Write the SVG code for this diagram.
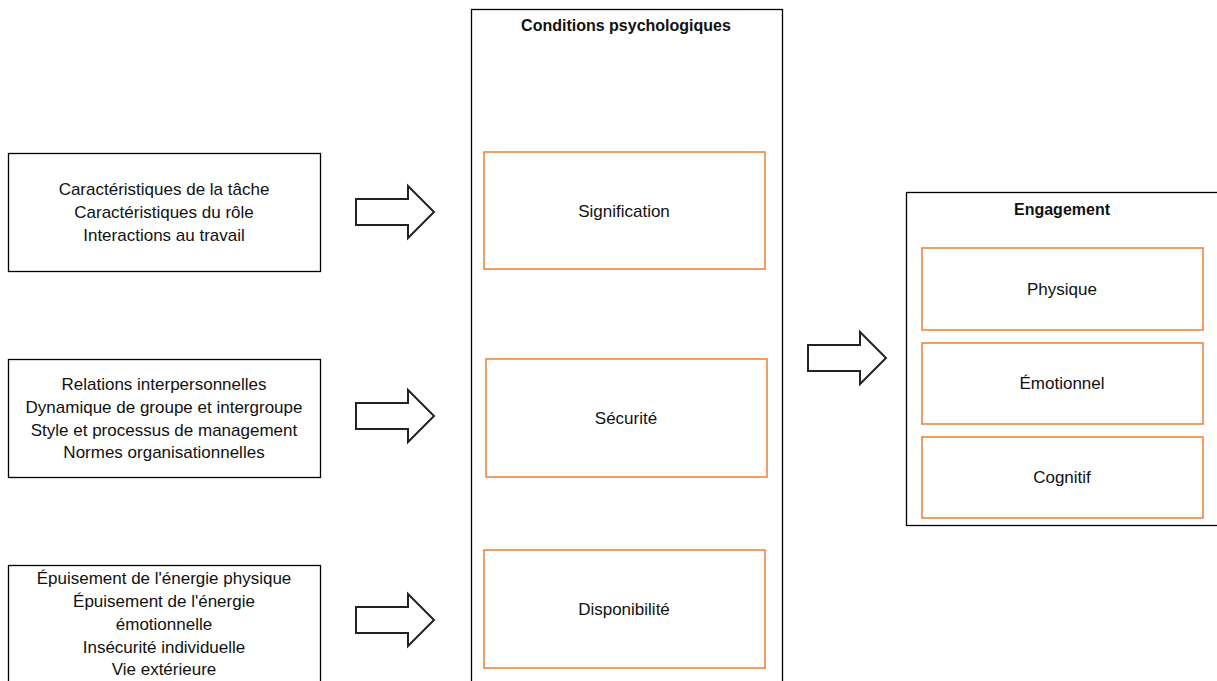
<svg xmlns="http://www.w3.org/2000/svg" width="1217" height="681" viewBox="0 0 1217 681">
<style>
.box{fill:#fff;stroke:#000;stroke-width:1.3}
.ob{fill:#fff;stroke:#ED7D31;stroke-width:1.5}
.t{font-family:"Liberation Sans",Arial,sans-serif;font-size:17px;fill:#111;text-anchor:middle}
.b{font-weight:bold;font-size:16px}
.arr{fill:#fff;stroke:#222;stroke-width:2;stroke-linejoin:miter}
</style>
<defs>
<path id="arrow" d="M0,-13 L52,-13 L52,-26 L78,0 L52,26 L52,13 L0,13 Z"/>
</defs>
<rect width="1217" height="681" fill="#fff"/>
<g id="antecedents1">
<rect class="box" x="8.5" y="153.5" width="312" height="118"/>
<text class="t" x="164" y="195">Caractéristiques de la tâche</text>
<text class="t" x="164" y="218">Caractéristiques du rôle</text>
<text class="t" x="164" y="241">Interactions au travail</text>
</g>
<g id="antecedents2">
<rect class="box" x="8.5" y="359.5" width="312" height="118"/>
<text class="t" x="164" y="390">Relations interpersonnelles</text>
<text class="t" x="164" y="413">Dynamique de groupe et intergroupe</text>
<text class="t" x="164" y="436">Style et processus de management</text>
<text class="t" x="164" y="458">Normes organisationnelles</text>
</g>
<g id="antecedents3">
<rect class="box" x="8.5" y="565.5" width="312" height="130"/>
<text class="t" x="164" y="584">Épuisement de l'énergie physique</text>
<text class="t" x="164" y="607">Épuisement de l'énergie</text>
<text class="t" x="164" y="630">émotionnelle</text>
<text class="t" x="164" y="653">Insécurité individuelle</text>
<text class="t" x="164" y="675">Vie extérieure</text>
</g>
<g id="conditions">
<rect class="box" x="471.5" y="9.5" width="311" height="690"/>
<text class="t b" x="626" y="31">Conditions  psychologiques</text>
</g>
<g id="signification">
<rect class="ob" x="484" y="152" width="281" height="117"/>
<text class="t" x="624" y="217">Signification</text>
</g>
<g id="securite">
<rect class="ob" x="486" y="359" width="281" height="118"/>
<text class="t" x="626" y="424">Sécurité</text>
</g>
<g id="disponibilite">
<rect class="ob" x="484" y="550" width="281" height="118"/>
<text class="t" x="624" y="615">Disponibilité</text>
</g>
<g id="engagement">
<rect class="box" x="906.5" y="192.5" width="320" height="333"/>
<text class="t b" x="1062" y="215">Engagement</text>
</g>
<g id="physique">
<rect class="ob" x="922" y="248" width="281" height="82"/>
<text class="t" x="1062" y="295">Physique</text>
</g>
<g id="emotionnel">
<rect class="ob" x="922" y="343" width="281" height="81"/>
<text class="t" x="1062" y="389">Émotionnel</text>
</g>
<g id="cognitif">
<rect class="ob" x="922" y="437" width="281" height="81"/>
<text class="t" x="1062" y="483">Cognitif</text>
</g>
<g id="connectors">
<use href="#arrow" class="arr" x="356" y="212"/>
<use href="#arrow" class="arr" x="356" y="416"/>
<use href="#arrow" class="arr" x="356" y="620"/>
<use href="#arrow" class="arr" x="808" y="358"/>
</g>
</svg>
